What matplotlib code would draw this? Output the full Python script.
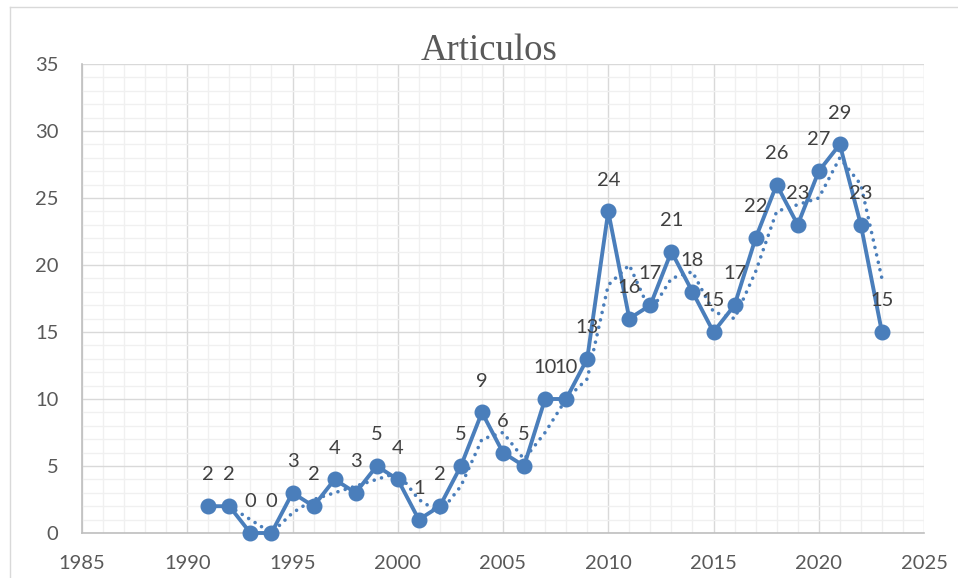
import numpy as np
import matplotlib.pyplot as plt
from matplotlib.lines import Line2D

years = list(range(1991, 2024))
articulos = [2, 2, 0, 0, 3, 2, 4, 3, 5, 4, 1, 2, 5, 9, 6, 5, 10, 10, 13, 24,
             16, 17, 21, 18, 15, 17, 22, 26, 23, 27, 29, 23, 15]

# 2-period moving average trendline (as Excel draws it)
ma_years = years[1:]
ma_vals = [(a + b) / 2 for a, b in zip(articulos[:-1], articulos[1:])]

blue = '#4a7ebb'
W, H = 958, 578
fig = plt.figure(figsize=(W / 100, H / 100), dpi=100)
ax = fig.add_axes([82 / W, 1 - 533 / H, (924 - 82) / W, (533 - 64) / H])

ax.set_xlim(1985, 2025)
ax.set_ylim(0, 35)
ax.set_xticks(range(1985, 2026, 5))
ax.set_yticks(range(0, 36, 5))
ax.set_xticks(range(1985, 2026), minor=True)
ax.set_yticks(range(0, 36), minor=True)
ax.grid(which='minor', color='#f0f0f0', linewidth=1.0)
ax.grid(which='major', color='#d9d9d9', linewidth=1.0)
ax.set_axisbelow(True)
ax.tick_params(which='both', length=0)
ax.tick_params(axis='y', pad=17)
ax.tick_params(axis='x', pad=16)
for lab in ax.get_xticklabels() + ax.get_yticklabels():
    lab.set_fontfamily('Lato')
    lab.set_fontsize(14.5)
    lab.set_color('#595959')
for s in ['top', 'right']:
    ax.spines[s].set_visible(False)
for s in ['left', 'bottom']:
    ax.spines[s].set_color('#bfbfbf')
    ax.spines[s].set_linewidth(1.2)

ax.plot(ma_years, ma_vals, color=blue, linewidth=2.6, linestyle=(0, (0.01, 2.1)),
        dash_capstyle='round', zorder=2, clip_on=False)
ax.plot(years, articulos, color=blue, linewidth=2.8, marker='o', markersize=10.5,
        zorder=3, clip_on=False)

for x, v in zip(years, articulos):
    ax.annotate(str(v), (x, v), xytext=(0, 22.5), textcoords='offset points',
                ha='center', va='center', fontsize=14.5, family='Lato',
                color='#404040', zorder=4)

fig.text(489 / W, 1 - 60 / H, 'Articulos', ha='center', va='baseline',
         fontsize=26.5, family='Liberation Serif', color='#595959')

# chart area border
fig.add_artist(Line2D([9.5 / W, 9.5 / W], [0, 1 - 6.5 / H], transform=fig.transFigure,
                      color='#d9d9d9', linewidth=1.0))
fig.add_artist(Line2D([9.5 / W, 1], [1 - 6.5 / H, 1 - 6.5 / H], transform=fig.transFigure,
                      color='#d9d9d9', linewidth=1.0))

fig.savefig('out.png', dpi=100)
